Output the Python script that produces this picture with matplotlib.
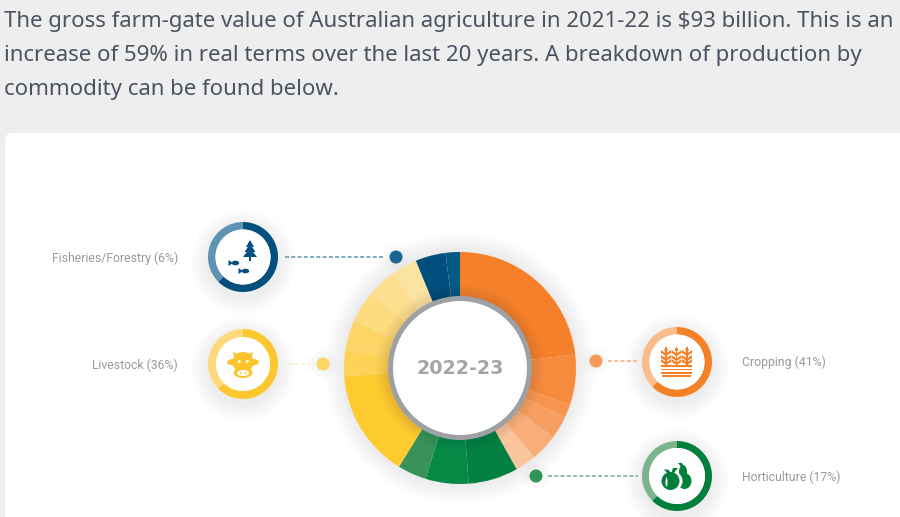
import matplotlib
matplotlib.use("Agg")
import matplotlib.pyplot as plt
from matplotlib.patches import Circle, Ellipse, FancyBboxPatch, Polygon, Rectangle

# share of production, clockwise from 12 o'clock (%)
cropping = [23.1, 6.9, 1.9, 3.2, 3.8, 2.9]
horticulture = [6.9, 6.0, 4.0]
livestock = [15.0, 3.6, 4.2, 4.4, 4.2, 3.5]
fisheries = [4.2, 2.0]

cropping_colors = ["#f58029", "#f68a3d", "#f79450", "#f79f62", "#f9ae79", "#fbc59c"]
horticulture_colors = ["#03803f", "#058a45", "#38925a"]
livestock_colors = ["#fdcb2e", "#fdd256", "#fdd566", "#fddb7f", "#fde08f", "#fbe3a1"]
fisheries_colors = ["#004f7c", "#035b85"]

intro_lines = [
    "The gross farm-gate value of Australian agriculture in 2021-22 is $93 billion. This is an",
    "increase of 59% in real terms over the last 20 years. A breakdown of production by",
    "commodity can be found below.",
]
year_label = "2022-23"

H = 517


def Y(y):
    return H - y


def soft_shadow(ax, x, y, r, spread=16, dy=3, alpha=0.007, z=1):
    for i in range(spread):
        ax.add_patch(Circle((x, Y(y + dy)), r + spread - i, fc="#30384a", ec="none", alpha=alpha, zorder=z))


def ring(ax, x, y, dark, light, white_r=27.5, split=225):
    soft_shadow(ax, x, y, 35, spread=18, dy=5, alpha=0.0045)
    ax.pie([split, 360 - split], colors=[dark, light], center=(x, Y(y)), radius=35, startangle=90,
           counterclock=False, wedgeprops=dict(width=35 - white_r, linewidth=0), normalize=True)
    ax.add_patch(Circle((x, Y(y)), white_r, fc="white", ec="none", zorder=3))


def leader(ax, x0, x1, y, color, dot_x, dot_color, dot_r=6.5):
    ax.plot([x0, x1], [Y(y), Y(y)], color=color, lw=1.1, dashes=(2.6, 1.5), zorder=3)
    soft_shadow(ax, dot_x, y, dot_r, spread=9, dy=0, alpha=0.004)
    ax.add_patch(Circle((dot_x, Y(y)), dot_r, fc=dot_color, ec="none", zorder=4))


def poly(ax, pts, color):
    ax.add_patch(Polygon([(x, Y(y)) for x, y in pts], closed=True, fc=color, ec="none", zorder=5))


def oval(ax, x, y, w, h, color, angle=0):
    ax.add_patch(Ellipse((x, Y(y)), w, h, angle=angle, fc=color, ec="none", zorder=5))


def fish(ax, x, y, color):
    oval(ax, x, y, 7.5, 4.6, color)
    poly(ax, [(x - 7, y - 3), (x - 2.5, y), (x - 7, y + 3)], color)


def draw_tree(ax, color):
    poly(ax, [(250, 240), (254, 247), (246, 247)], color)
    poly(ax, [(250, 244), (255.5, 252), (244.5, 252)], color)
    poly(ax, [(250, 248), (257, 257), (243, 257)], color)
    poly(ax, [(249, 256), (251, 256), (251, 261), (249, 261)], color)
    fish(ax, 235.5, 263, color)
    fish(ax, 245.5, 271, color)


def draw_cow(ax, color):
    oval(ax, 243, 362, 21, 20, color)
    poly(ax, [(232.5, 352), (240, 355), (236, 360)], color)
    poly(ax, [(253.5, 352), (246, 355), (250, 360)], color)
    poly(ax, [(236, 358), (228, 360), (227, 364), (235, 366)], color)
    poly(ax, [(250, 358), (258, 360), (259, 364), (251, 366)], color)
    oval(ax, 243, 372.5, 19, 11, color)
    oval(ax, 243, 373, 12, 6, "white")
    oval(ax, 240.7, 373, 1.8, 1.8, color)
    oval(ax, 245.3, 373, 1.8, 1.8, color)
    oval(ax, 239.3, 361.5, 3, 3, "white")
    oval(ax, 247.3, 361.5, 3, 3, "white")


def draw_wheat(ax, color):
    for x in [666, 676.5, 687]:
        poly(ax, [(x - .7, 347), (x + .7, 347), (x + .7, 366), (x - .7, 366)], color)
        poly(ax, [(x, 346.5), (x + 2, 350), (x, 352), (x - 2, 350)], color)
        for y in [352, 357, 361]:
            poly(ax, [(x - 5, y - 2), (x, y + 1.5), (x, y + 4), (x - 5, y + 1)], color)
            poly(ax, [(x + 5, y - 2), (x, y + 1.5), (x, y + 4), (x + 5, y + 1)], color)
    for y, x0, x1 in [(366, 661, 692), (369.5, 661, 692), (373, 661, 692), (376, 662, 691)]:
        ax.add_patch(Rectangle((x0, Y(y) - .6), x1 - x0, 1.2, fc=color, ec="none", zorder=5))


def draw_fruit(ax, color):
    oval(ax, 684.5, 481, 14, 16, color)
    oval(ax, 683, 472, 8, 14, color)
    poly(ax, [(678, 463), (682, 463), (685, 468), (682, 468)], color)
    oval(ax, 672, 481, 21, 20, "white")
    oval(ax, 670.5, 481, 18, 18, color)
    poly(ax, [(664, 469), (669, 470), (671, 474), (667, 473)], color)
    poly(ax, [(671, 474), (673, 468), (678, 468), (673, 474)], color)
    oval(ax, 666.5, 482, 2, 9, "white")


fig = plt.figure(figsize=(9, 5.17), dpi=100, facecolor="#eeeeee")
ax = fig.add_axes([0, 0, 1, 1])

# white card
ax.add_patch(FancyBboxPatch((11, -30), 950, Y(133) + 24, boxstyle="round,pad=6,rounding_size=7",
                            fc="white", ec="none", zorder=0))

for text, y in zip(intro_lines, [21, 55, 89]):
    ax.text(4, Y(y), text, family="Noto Sans", fontsize=16.0, color="#4a5360", va="center", ha="left")

# donut
cx, cy = 460, 368
soft_shadow(ax, cx, cy, 116, spread=20, dy=0, alpha=0.003)
values = cropping + horticulture + livestock + fisheries
colors = cropping_colors + horticulture_colors + livestock_colors + fisheries_colors
ax.pie(values, colors=colors, center=(cx, Y(cy)), radius=116, startangle=90, counterclock=False,
       wedgeprops=dict(width=48, linewidth=0), normalize=True)
soft_shadow(ax, cx, cy, 72, spread=12, dy=0, alpha=0.008, z=3)
ax.add_patch(Circle((cx, Y(cy)), 72, fc="#9da1a6", ec="none", zorder=4))
ax.add_patch(Circle((cx, Y(cy)), 67, fc="white", ec="none", zorder=4))
ax.text(cx, Y(cy + 1), year_label, family="DejaVu Sans", weight="bold", fontsize=13.8, color="#a3a5a8",
        ha="center", va="center", zorder=5)

# side badges
ring(ax, 243, 257, "#034f7d", "#5f93b3")
ring(ax, 243, 364, "#fdc82f", "#fdd97b", white_r=27)
ring(ax, 677, 362, "#f58025", "#fbbc8c")
ring(ax, 677, 476, "#037f3c", "#7cb38f", white_r=28)

draw_tree(ax, "#034f7d")
draw_cow(ax, "#fdc32a")
draw_wheat(ax, "#f58025")
draw_fruit(ax, "#037f3c")

leader(ax, 285, 385, 257, "#5b96a5", 396, "#1c6593")
leader(ax, 288, 315, 364, "#fbf0cb", 323, "#fdd565")
leader(ax, 608, 638, 361, "#f5ab79", 596, "#f79a56")
leader(ax, 548, 638, 476, "#70ad8a", 536, "#2f9556")

label_font = ["Liberation Sans Narrow", "Roboto", "DejaVu Sans"]
for text, x, y, ha in [("Fisheries/Forestry (6%)", 178, 258, "right"), ("Livestock (36%)", 178, 365, "right"),
                       ("Cropping (41%)", 742, 362, "left"), ("Horticulture (17%)", 742, 477, "left")]:
    ax.text(x, Y(y), text, family=label_font, fontsize=8.8, color="#97999c", ha=ha, va="center")

ax.set_aspect("auto")
ax.set_xlim(0, 900)
ax.set_ylim(0, H)
ax.axis("off")
fig.savefig("out.png", dpi=100, facecolor=fig.get_facecolor())
